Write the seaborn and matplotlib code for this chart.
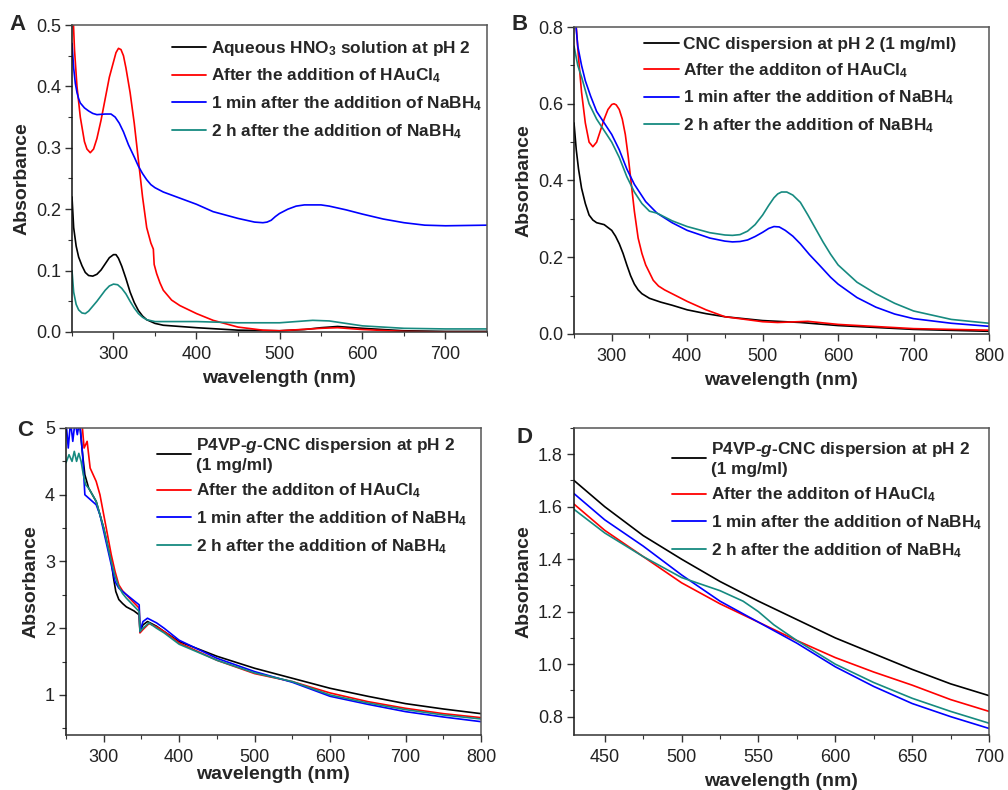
import numpy as np
import pandas as pd
import seaborn as sns
import matplotlib
matplotlib.use("Agg")
import matplotlib.pyplot as plt
from matplotlib.ticker import MultipleLocator, FormatStrFormatter

sns.set_theme(style="white")
plt.rcParams['font.family'] = ['Liberation Sans', 'DejaVu Sans']
plt.rcParams['mathtext.fontset'] = 'custom'
plt.rcParams['mathtext.rm'] = 'Liberation Sans:bold'
plt.rcParams['mathtext.it'] = 'Liberation Sans:bold:italic'
plt.rcParams['mathtext.default'] = 'rm'

COLORS = ['#000000', '#ff0000', '#0000ff', '#168a80']

# ---------------- Panel A ----------------
a_labels = ['Aqueous HNO$_3$ solution at pH 2', 'After the addition of HAuCl$_4$',
            '1 min after the addition of NaBH$_4$', '2 h after the addition of NaBH$_4$']
a_black_x = [250, 252, 255, 258, 262, 266, 270, 275, 280, 285, 290, 295, 300, 303, 306, 310, 315, 320, 325, 330, 335, 340, 350, 360, 380, 400, 450, 500, 530, 550, 570, 600, 650, 700, 750]
a_black_y = [0.22, 0.17, 0.14, 0.122, 0.108, 0.097, 0.092, 0.091, 0.094, 0.101, 0.111, 0.121, 0.126, 0.126, 0.12, 0.107, 0.087, 0.065, 0.048, 0.035, 0.026, 0.02, 0.014, 0.011, 0.009, 0.007, 0.003, 0.002, 0.004, 0.007, 0.009, 0.006, 0.002, 0.001, 0.001]
a_red_x = [250, 253, 256, 260, 265, 268, 272, 276, 280, 285, 290, 295, 300, 303, 306, 309, 312, 315, 320, 325, 330, 335, 340, 345, 348, 349, 352, 356, 360, 370, 380, 400, 420, 450, 480, 500, 550, 570, 600, 650, 700, 750]
a_red_y = [0.56, 0.46, 0.40, 0.35, 0.31, 0.298, 0.292, 0.298, 0.315, 0.345, 0.38, 0.415, 0.44, 0.455, 0.462, 0.46, 0.45, 0.43, 0.39, 0.34, 0.28, 0.22, 0.17, 0.145, 0.135, 0.11, 0.095, 0.08, 0.068, 0.052, 0.043, 0.03, 0.019, 0.008, 0.003, 0.002, 0.006, 0.007, 0.004, 0.001, 0.0, 0.0]
a_blue_x = [250, 252, 254, 256, 258, 260, 265, 270, 275, 280, 290, 297, 302, 307, 312, 318, 325, 330, 335, 340, 345, 350, 360, 380, 400, 420, 450, 470, 480, 485, 490, 495, 500, 510, 520, 530, 540, 550, 560, 580, 600, 625, 650, 675, 700, 750]
a_blue_y = [0.47, 0.43, 0.405, 0.39, 0.38, 0.373, 0.365, 0.36, 0.356, 0.354, 0.355, 0.355, 0.35, 0.34, 0.326, 0.305, 0.285, 0.27, 0.258, 0.248, 0.24, 0.235, 0.228, 0.218, 0.208, 0.196, 0.185, 0.179, 0.178, 0.179, 0.182, 0.188, 0.193, 0.2, 0.205, 0.207, 0.207, 0.207, 0.205, 0.199, 0.192, 0.184, 0.178, 0.174, 0.173, 0.174]
a_teal_x = [250, 252, 255, 258, 262, 266, 270, 275, 280, 285, 290, 295, 300, 305, 310, 315, 320, 325, 330, 335, 340, 350, 400, 450, 500, 520, 540, 560, 580, 600, 650, 700, 750]
a_teal_y = [0.1, 0.065, 0.045, 0.036, 0.031, 0.03, 0.034, 0.042, 0.05, 0.059, 0.068, 0.075, 0.078, 0.077, 0.071, 0.062, 0.05, 0.039, 0.03, 0.024, 0.02, 0.017, 0.017, 0.015, 0.015, 0.017, 0.019, 0.018, 0.014, 0.01, 0.006, 0.005, 0.005]

# ---------------- Panel B ----------------
b_labels = ['CNC dispersion at pH 2 (1 mg/ml)', 'After the additon of HAuCl$_4$',
            '1 min after the addition of NaBH$_4$', '2 h after the addition of NaBH$_4$']
b_black_x = [250, 253, 256, 260, 265, 270, 275, 280, 290, 300, 305, 310, 315, 320, 325, 330, 335, 340, 350, 365, 380, 400, 425, 450, 500, 550, 600, 700, 800]
b_black_y = [0.55, 0.48, 0.43, 0.38, 0.34, 0.31, 0.297, 0.29, 0.285, 0.27, 0.255, 0.235, 0.21, 0.18, 0.152, 0.13, 0.115, 0.105, 0.093, 0.083, 0.075, 0.063, 0.053, 0.045, 0.035, 0.03, 0.022, 0.012, 0.007]
b_red_x = [250, 253, 256, 260, 265, 270, 275, 280, 285, 290, 295, 300, 303, 306, 310, 314, 318, 322, 326, 330, 335, 340, 345, 350, 355, 362, 370, 385, 400, 425, 450, 500, 520, 560, 600, 700, 800]
b_red_y = [0.86, 0.80, 0.72, 0.63, 0.55, 0.50, 0.488, 0.50, 0.53, 0.56, 0.585, 0.598, 0.60, 0.597, 0.585, 0.56, 0.52, 0.46, 0.39, 0.32, 0.25, 0.21, 0.18, 0.16, 0.14, 0.125, 0.115, 0.1, 0.085, 0.063, 0.045, 0.032, 0.03, 0.033, 0.025, 0.014, 0.01]
b_blue_x = [250, 255, 260, 265, 272, 280, 290, 300, 310, 320, 330, 340, 345, 350, 360, 380, 400, 430, 450, 460, 470, 480, 490, 500, 508, 515, 522, 530, 540, 550, 562, 575, 590, 600, 625, 650, 675, 700, 750, 800]
b_blue_y = [0.86, 0.75, 0.70, 0.66, 0.62, 0.58, 0.55, 0.52, 0.48, 0.43, 0.39, 0.36, 0.345, 0.335, 0.315, 0.29, 0.27, 0.25, 0.242, 0.24, 0.241, 0.245, 0.254, 0.265, 0.275, 0.28, 0.279, 0.27, 0.255, 0.235, 0.207, 0.18, 0.148, 0.13, 0.095, 0.07, 0.052, 0.04, 0.028, 0.02]
b_teal_x = [250, 255, 260, 270, 280, 290, 300, 310, 320, 330, 340, 345, 350, 360, 380, 400, 430, 450, 460, 470, 480, 490, 500, 508, 515, 520, 525, 532, 540, 550, 560, 570, 580, 590, 600, 625, 650, 675, 700, 750, 800]
b_teal_y = [0.75, 0.70, 0.67, 0.60, 0.56, 0.53, 0.50, 0.46, 0.41, 0.37, 0.34, 0.33, 0.32, 0.315, 0.295, 0.28, 0.264, 0.258, 0.257, 0.259, 0.268, 0.285, 0.31, 0.335, 0.355, 0.365, 0.37, 0.37, 0.362, 0.343, 0.31, 0.275, 0.24, 0.208, 0.18, 0.135, 0.105, 0.08, 0.06, 0.038, 0.028]

# ---------------- Panel C ----------------
cd_labels = ['P4VP-$\\mathit{g}$-CNC dispersion at pH 2\n(1 mg/ml)', 'After the additon of HAuCl$_4$',
             '1 min after the addition of NaBH$_4$', '2 h after the addition of NaBH$_4$']
c_black_x = [268, 272, 275, 280, 290, 300, 306, 310, 313, 316, 320, 325, 330, 340, 347, 348, 352, 358, 370, 380, 400, 450, 500, 550, 600, 650, 700, 750, 800]
c_black_y = [5.1, 4.6, 4.3, 4.1, 3.9, 3.5, 3.2, 3.0, 2.75, 2.55, 2.43, 2.37, 2.32, 2.26, 2.2, 1.95, 2.05, 2.1, 2.03, 1.95, 1.8, 1.58, 1.4, 1.25, 1.1, 0.98, 0.87, 0.79, 0.72]
c_red_x = [271, 274, 278, 282, 286, 290, 295, 300, 305, 310, 315, 320, 325, 330, 347, 348, 352, 360, 370, 380, 400, 450, 500, 550, 600, 650, 700, 750, 800]
c_red_y = [5.1, 4.7, 4.8, 4.4, 4.3, 4.2, 4.0, 3.7, 3.4, 3.1, 2.85, 2.65, 2.56, 2.5, 2.3, 1.93, 1.98, 2.07, 2.02, 1.95, 1.78, 1.52, 1.32, 1.2, 1.03, 0.9, 0.8, 0.72, 0.66]
c_blue_x = [250, 253, 256, 259, 262, 265, 268, 272, 275, 280, 285, 290, 295, 300, 305, 310, 315, 320, 325, 347, 348, 352, 358, 370, 380, 400, 450, 500, 550, 600, 650, 700, 750, 800]
c_blue_y = [5.1, 4.7, 5.1, 4.8, 5.1, 4.9, 5.1, 4.6, 4.0, 3.95, 3.9, 3.85, 3.7, 3.45, 3.2, 2.95, 2.7, 2.6, 2.55, 2.35, 1.95, 2.1, 2.15, 2.08, 2.0, 1.82, 1.55, 1.35, 1.19, 0.98, 0.86, 0.75, 0.67, 0.6]
c_teal_x = [250, 254, 258, 261, 264, 267, 270, 273, 276, 280, 285, 290, 300, 305, 310, 315, 320, 325, 330, 347, 348, 352, 360, 370, 380, 400, 450, 500, 550, 600, 650, 700, 750, 800]
c_teal_y = [4.48, 4.6, 4.5, 4.65, 4.5, 4.62, 4.5, 4.3, 4.15, 4.1, 4.0, 3.9, 3.5, 3.25, 3.0, 2.78, 2.62, 2.52, 2.45, 2.25, 1.95, 2.0, 2.08, 2.0, 1.93, 1.76, 1.52, 1.33, 1.2, 1.0, 0.88, 0.78, 0.7, 0.64]

# ---------------- Panel D ----------------
d_x = [430, 450, 475, 500, 525, 550, 575, 600, 625, 650, 675, 700]
d_black_y = [1.70, 1.60, 1.49, 1.40, 1.315, 1.24, 1.17, 1.10, 1.04, 0.98, 0.925, 0.88]
d_red_y = [1.61, 1.51, 1.41, 1.31, 1.23, 1.16, 1.09, 1.025, 0.97, 0.92, 0.865, 0.82]
d_blue_y = [1.65, 1.55, 1.45, 1.34, 1.24, 1.16, 1.08, 0.99, 0.915, 0.85, 0.80, 0.755]
d_teal_x = [430, 450, 475, 500, 525, 540, 550, 560, 565, 575, 600, 625, 650, 675, 700]
d_teal_y = [1.59, 1.50, 1.41, 1.33, 1.28, 1.24, 1.20, 1.15, 1.13, 1.09, 1.00, 0.93, 0.87, 0.82, 0.775]


def make_df(series, labels):
    frames = []
    for (xs, ys), lab in zip(series, labels):
        frames.append(pd.DataFrame({'wl': xs, 'A': ys, 'series': lab}))
    return pd.concat(frames, ignore_index=True)


fig = plt.figure(figsize=(10.08, 7.9), dpi=100)
W, H = 1008, 790


def add_ax(left, top, right, bottom):
    return fig.add_axes([left / W, 1 - bottom / H, (right - left) / W, (bottom - top) / H])


panels = [
    dict(ax=add_ax(72, 25, 487, 332), letter='A', lpos=(18, 25),
         series=[(a_black_x, a_black_y), (a_red_x, a_red_y), (a_blue_x, a_blue_y), (a_teal_x, a_teal_y)],
         labels=a_labels, xlim=(250, 750), ylim=(0, 0.5), xmaj=100, xmin=50, ymaj=0.1, ymin=0.05,
         yfmt='%.1f', leg=(0.241, 0.955), xlpad=5),
    dict(ax=add_ax(574, 27, 989, 334), letter='B', lpos=(520, 25),
         series=[(b_black_x, b_black_y), (b_red_x, b_red_y), (b_blue_x, b_blue_y), (b_teal_x, b_teal_y)],
         labels=b_labels, xlim=(250, 800), ylim=(0, 0.8), xmaj=100, xmin=50, ymaj=0.2, ymin=0.1,
         yfmt='%.1f', leg=(0.169, 0.967), xlpad=5),
    dict(ax=add_ax(66, 428, 481, 735), letter='C', lpos=(25, 430),
         series=[(c_black_x, c_black_y), (c_red_x, c_red_y), (c_blue_x, c_blue_y), (c_teal_x, c_teal_y)],
         labels=cd_labels, xlim=(250, 800), ylim=(0.4, 5), xmaj=100, xmin=50, ymaj=1, ymin=0.5,
         yfmt='%d', leg=(0.219, 0.973), xlpad=0),
    dict(ax=add_ax(574, 428, 989, 735), letter='D', lpos=(525, 438),
         series=[(d_x, d_black_y), (d_x, d_red_y), (d_x, d_blue_y), (d_teal_x, d_teal_y)],
         labels=cd_labels, xlim=(430, 700), ylim=(0.73, 1.9), xmaj=50, xmin=25, ymaj=0.2, ymin=0.1,
         yfmt='%.1f', leg=(0.236, 0.96), xlpad=5),
]

for p in panels:
    ax = p['ax']
    df = make_df(p['series'], p['labels'])
    sns.lineplot(data=df, x='wl', y='A', hue='series', hue_order=p['labels'],
                 palette=COLORS, estimator=None, sort=False, lw=1.2, ax=ax, legend=True)
    ax.set_xlim(*p['xlim'])
    ax.set_ylim(*p['ylim'])
    ax.xaxis.set_major_locator(MultipleLocator(p['xmaj']))
    ax.xaxis.set_minor_locator(MultipleLocator(p['xmin']))
    ax.yaxis.set_major_locator(MultipleLocator(p['ymaj']))
    ax.yaxis.set_minor_locator(MultipleLocator(p['ymin']))
    ax.yaxis.set_major_formatter(FormatStrFormatter(p['yfmt']))
    ax.tick_params(which='major', direction='out', length=5, width=1, labelsize=13,
                   bottom=True, left=True, pad=3, color='#333333', labelcolor='#222222')
    ax.tick_params(axis='x', which='major', pad=5)
    ax.tick_params(which='minor', direction='out', length=3, width=0.8,
                   bottom=True, left=True, color='#333333')
    for s in ax.spines.values():
        s.set_visible(True)
        s.set_color('#555555')
        s.set_linewidth(1.1)
    ax.spines['left'].set_color('#111111')
    ax.spines['bottom'].set_color('#333333')
    ax.set_xlabel('wavelength (nm)', fontsize=14, fontweight='bold', labelpad=p['xlpad'])
    ax.set_ylabel('Absorbance', fontsize=14, fontweight='bold', labelpad=4)
    h, l = ax.get_legend_handles_labels()
    for hh in h:
        hh.set_linewidth(1.3)
    ax.legend(h, l, loc='upper left', bbox_to_anchor=p['leg'], frameon=False,
              prop={'weight': 'bold', 'size': 12.4}, handlelength=2.0, handletextpad=0.25,
              borderpad=0, borderaxespad=0, labelspacing=0.52)
    fig.text(p['lpos'][0] / W, 1 - p['lpos'][1] / H, p['letter'], fontsize=16,
             fontweight='bold', ha='center', va='center')

fig.savefig('out.png', dpi=100)
